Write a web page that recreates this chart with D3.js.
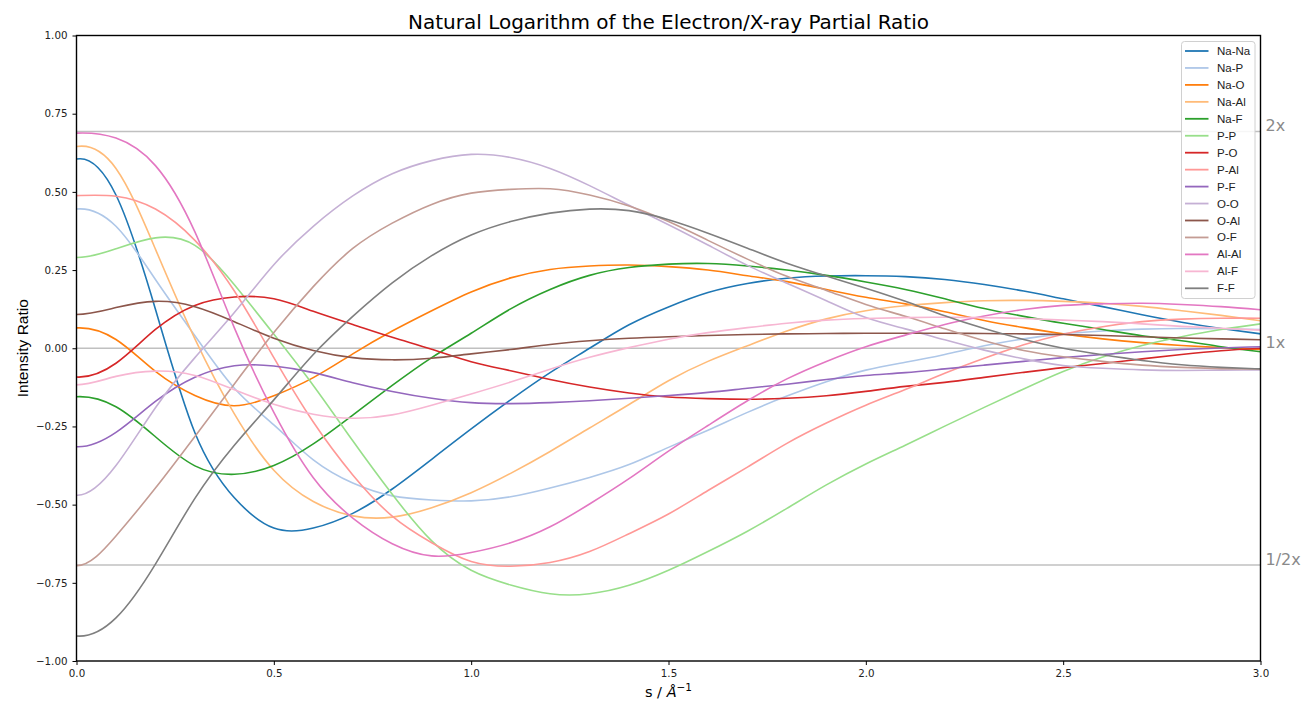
<!DOCTYPE html>
<html>
<head>
<meta charset="utf-8">
<script src="https://cdn.jsdelivr.net/npm/d3@7"></script>
<style>
  html, body { margin: 0; padding: 0; background: #fff; }
  svg { display: block; }
</style>
</head>
<body>
<svg id="chart" width="1302" height="703"></svg>
<script>
// ---------------- data ----------------
const sValues = [0.0,0.1,0.2,0.3,0.4,0.5,0.6,0.7,0.8,0.9,1.0,1.1,1.2,1.3,1.4,1.5,1.6,1.7,1.8,1.9,2.0,2.1,2.2,2.3,2.4,2.5,2.6,2.7,2.8,2.9,3.0];

const seriesNames = ["Na-Na","Na-P","Na-O","Na-Al","Na-F","P-P","P-O","P-Al","P-F","O-O","O-Al","O-F","Al-Al","Al-F","F-F"];

const naNa = [0.605,0.49,0.125,-0.27,-0.478,-0.575,-0.575,-0.528,-0.45,-0.355,-0.258,-0.165,-0.078,0.0,0.075,0.132,0.178,0.207,0.224,0.231,0.232,0.229,0.22,0.204,0.183,0.158,0.133,0.107,0.083,0.063,0.046];
const naP  = [0.445,0.39,0.22,0.04,-0.128,-0.245,-0.357,-0.431,-0.472,-0.485,-0.488,-0.475,-0.447,-0.413,-0.372,-0.317,-0.262,-0.205,-0.153,-0.107,-0.07,-0.045,-0.02,0.008,0.03,0.046,0.055,0.061,0.063,0.062,0.06];
const naO  = [0.065,0.028,-0.074,-0.151,-0.184,-0.152,-0.094,-0.018,0.055,0.12,0.18,0.225,0.252,0.263,0.266,0.261,0.25,0.232,0.213,0.188,0.163,0.142,0.117,0.089,0.066,0.046,0.03,0.018,0.009,0.002,-0.004];
const naAl = [0.645,0.575,0.317,0.03,-0.21,-0.39,-0.49,-0.536,-0.54,-0.51,-0.462,-0.4,-0.33,-0.255,-0.18,-0.104,-0.042,0.008,0.055,0.094,0.12,0.136,0.146,0.152,0.153,0.15,0.144,0.134,0.12,0.105,0.088];
const naF  = [-0.155,-0.187,-0.283,-0.376,-0.403,-0.375,-0.306,-0.214,-0.119,-0.03,0.048,0.126,0.188,0.233,0.258,0.269,0.271,0.263,0.25,0.233,0.212,0.188,0.158,0.127,0.102,0.08,0.06,0.04,0.024,0.005,-0.011];
const pP   = [0.29,0.318,0.353,0.329,0.203,0.045,-0.119,-0.296,-0.467,-0.616,-0.71,-0.757,-0.785,-0.785,-0.758,-0.71,-0.65,-0.585,-0.512,-0.437,-0.37,-0.31,-0.249,-0.189,-0.13,-0.074,-0.028,0.009,0.037,0.06,0.078];
const pO   = [-0.092,-0.048,0.06,0.137,0.164,0.158,0.118,0.076,0.035,-0.003,-0.043,-0.072,-0.1,-0.124,-0.143,-0.156,-0.161,-0.163,-0.16,-0.152,-0.138,-0.122,-0.109,-0.093,-0.077,-0.062,-0.049,-0.034,-0.02,-0.008,0.0];
const pAl  = [0.488,0.486,0.445,0.345,0.183,-0.03,-0.236,-0.405,-0.537,-0.622,-0.682,-0.697,-0.685,-0.65,-0.593,-0.53,-0.455,-0.38,-0.304,-0.239,-0.182,-0.132,-0.08,-0.032,0.011,0.045,0.069,0.085,0.093,0.096,0.096];
const pF   = [-0.315,-0.269,-0.17,-0.093,-0.056,-0.057,-0.078,-0.11,-0.138,-0.16,-0.174,-0.177,-0.174,-0.168,-0.16,-0.151,-0.141,-0.128,-0.115,-0.1,-0.087,-0.078,-0.066,-0.054,-0.042,-0.03,-0.02,-0.011,-0.004,0.001,0.005];
const oO   = [-0.47,-0.375,-0.19,-0.03,0.114,0.267,0.39,0.487,0.558,0.6,0.62,0.61,0.575,0.52,0.457,0.395,0.33,0.265,0.208,0.152,0.098,0.062,0.027,-0.006,-0.034,-0.055,-0.064,-0.069,-0.071,-0.07,-0.069];
const oAl  = [0.108,0.13,0.15,0.133,0.085,0.032,-0.007,-0.03,-0.037,-0.032,-0.018,-0.004,0.012,0.024,0.032,0.037,0.041,0.044,0.046,0.047,0.048,0.048,0.048,0.047,0.046,0.044,0.041,0.037,0.033,0.03,0.027];
const oF   = [-0.695,-0.6,-0.447,-0.282,-0.114,0.05,0.197,0.319,0.4,0.46,0.496,0.508,0.51,0.49,0.455,0.405,0.345,0.285,0.23,0.185,0.14,0.102,0.062,0.024,-0.007,-0.027,-0.042,-0.054,-0.061,-0.065,-0.067];
const alAl = [0.688,0.672,0.584,0.372,0.065,-0.205,-0.414,-0.543,-0.625,-0.664,-0.653,-0.622,-0.571,-0.498,-0.417,-0.329,-0.247,-0.168,-0.098,-0.042,0.005,0.042,0.076,0.103,0.124,0.137,0.142,0.144,0.14,0.133,0.123];
const alF  = [-0.117,-0.09,-0.073,-0.087,-0.133,-0.179,-0.211,-0.224,-0.213,-0.182,-0.146,-0.108,-0.067,-0.029,0.002,0.029,0.05,0.066,0.08,0.09,0.095,0.098,0.099,0.098,0.095,0.09,0.085,0.078,0.07,0.064,0.058];
const fF   = [-0.92,-0.862,-0.69,-0.48,-0.31,-0.165,-0.02,0.102,0.209,0.296,0.362,0.405,0.432,0.445,0.44,0.411,0.368,0.32,0.272,0.231,0.192,0.15,0.104,0.063,0.028,0.0,-0.021,-0.039,-0.053,-0.061,-0.066];

const seriesValues = [naNa,naP,naO,naAl,naF,pP,pO,pAl,pF,oO,oAl,oF,alAl,alF,fF];
const seriesColors = ["#1f77b4","#aec7e8","#ff7f0e","#ffbb78","#2ca02c","#98df8a","#d62728","#ff9896","#9467bd","#c5b0d5","#8c564b","#c49c94","#e377c2","#f7b6d2","#7f7f7f"];

const xTicks = [0.0,0.5,1.0,1.5,2.0,2.5,3.0];
const yTicks = [-1.0,-0.75,-0.5,-0.25,0.0,0.25,0.5,0.75,1.0];
const refLevels = [Math.LN2, 0, -Math.LN2];
const refLabels = ["2x","1x","1/2x"];

// ---------------- layout ----------------
const L = 76.5, R = 1260.5, T = 35.5, B = 661;
const svg = d3.select("#chart");
const x = d3.scaleLinear().domain([0,3]).range([L,R]);
const y = d3.scaleLinear().domain([-1,1]).range([B,T]);
const tickFont = "'DejaVu Sans', sans-serif";
const minus = v => v.replace("-", "\u2212");

svg.append("defs").append("clipPath").attr("id","clip")
  .append("rect").attr("x",L).attr("y",T-2).attr("width",R-L).attr("height",B-T+4);

// reference lines
svg.append("g").selectAll("line").data(refLevels).join("line")
  .attr("x1",L).attr("x2",R)
  .attr("y1",d=>y(d)).attr("y2",d=>y(d))
  .attr("stroke","#c0c0c0").attr("stroke-width",1.6);

// series: each curve is even in s, so the point at s=0.1 is mirrored to s=-0.1
// (outside the clipped plot) to give the spline a flat start at s=0.
const line = d3.line()
  .x(d=>x(d[0]))
  .y(d=>y(d[1]))
  .curve(d3.curveNatural);
const toPoints = vals => {
  const pts = sValues.map((s,i)=>[s, vals[i]]);
  pts.unshift([-sValues[1], vals[1]]);
  return pts;
};

svg.append("g").attr("clip-path","url(#clip)")
  .selectAll("path").data(seriesValues).join("path")
  .attr("d", d=>line(toPoints(d)))
  .attr("fill","none")
  .attr("stroke",(d,i)=>seriesColors[i])
  .attr("stroke-width",1.6)
  .attr("stroke-linejoin","round");

// axes
const xAxis = d3.axisBottom(x).tickValues(xTicks).tickFormat(d3.format(".1f")).tickSize(4).tickPadding(5);
const yAxis = d3.axisLeft(y).tickValues(yTicks).tickFormat(d=>minus(d3.format(".2f")(d))).tickSize(4).tickPadding(5);

const gx = svg.append("g").attr("transform",`translate(0,${B})`).call(xAxis);
const gy = svg.append("g").attr("transform",`translate(${L},0)`).call(yAxis);
[gx,gy].forEach(g=>{
  g.select(".domain").remove();
  g.selectAll(".tick line").attr("stroke","#000").attr("stroke-width",1);
  g.selectAll(".tick text").attr("font-family",tickFont).attr("font-size","10.3px").attr("fill","#222");
});

// frame
svg.append("rect").attr("x",L).attr("y",T).attr("width",R-L).attr("height",B-T)
  .attr("fill","none").attr("stroke","#000").attr("stroke-width",1.4);

// ref labels
svg.append("g").selectAll("text").data(refLevels).join("text")
  .attr("x",R+5).attr("y",d=>y(d))
  .attr("font-family",tickFont).attr("font-size","16px").attr("fill","#8a8a8a")
  .text((d,i)=>refLabels[i]);

// title
svg.append("text").attr("x",(L+R)/2).attr("y",29).attr("text-anchor","middle")
  .attr("font-family",tickFont).attr("font-size","20px").attr("fill","#000")
  .text("Natural Logarithm of the Electron/X-ray Partial Ratio");

// y label
svg.append("text").attr("transform",`translate(28,${(T+B)/2}) rotate(-90)`)
  .attr("text-anchor","middle")
  .attr("font-family","'Liberation Sans', Arial, sans-serif").attr("font-size","15.5px").attr("fill","#000")
  .text("Intensity Ratio");

// x label
const xl = svg.append("text").attr("x",(L+R)/2).attr("y",697).attr("text-anchor","middle")
  .attr("font-family",tickFont).attr("font-size","14.5px").attr("fill","#000");
xl.append("tspan").text("s / ");
xl.append("tspan").attr("font-style","italic").text("Å");
xl.append("tspan").attr("font-size","10.5px").attr("dy",-6).text("\u22121");

// legend
const lg = svg.append("g");
const legX = 1181.5, legY = 41.5, legW = 73.5, legH = 257, rowH = 16.95;
lg.append("rect").attr("x",legX).attr("y",legY).attr("width",legW).attr("height",legH)
  .attr("rx",3).attr("fill","#fff").attr("fill-opacity",0.85)
  .attr("stroke","#d0d0d0").attr("stroke-width",1);
const rows = lg.selectAll("g.row").data(seriesNames).join("g").attr("class","row")
  .attr("transform",(d,i)=>`translate(0,${51+i*rowH})`);
rows.append("line").attr("x1",1185).attr("x2",1208.5).attr("y1",0).attr("y2",0)
  .attr("stroke",(d,i)=>seriesColors[i]).attr("stroke-width",1.8);
rows.append("text").attr("x",1217).attr("y",4)
  .attr("font-family","'Liberation Sans', Arial, sans-serif").attr("font-size","11.5px").attr("fill","#222")
  .text(d=>d);
</script>
</body>
</html>
